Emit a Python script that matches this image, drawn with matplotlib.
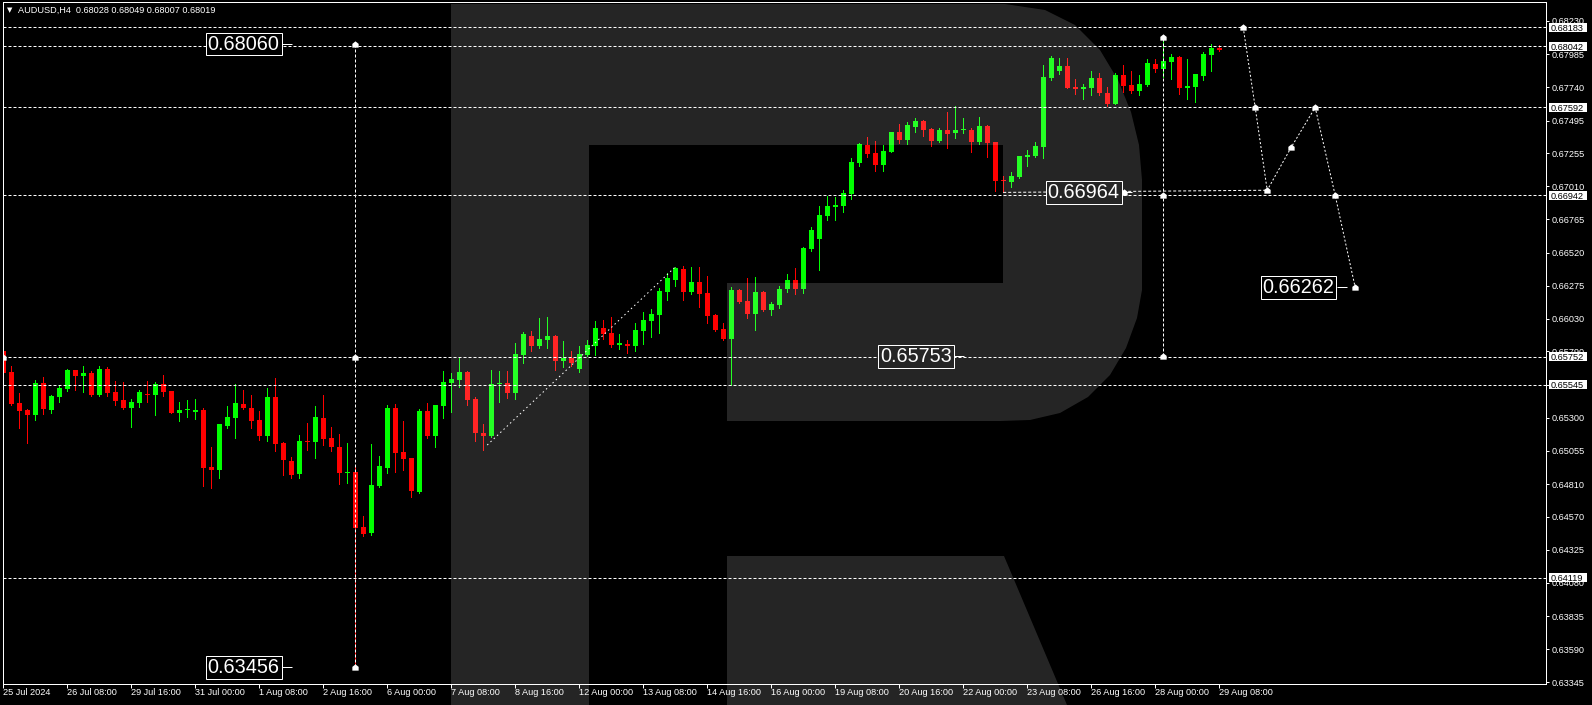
import matplotlib
matplotlib.use("Agg")
import matplotlib.pyplot as plt
from matplotlib import font_manager as fm
from matplotlib.path import Path
from matplotlib.patches import Polygon, Rectangle
import numpy as np

# ---------------- data ----------------
header_symbol = "AUDUSD,H4"
header_ohlc = "0.68028 0.68049 0.68007 0.68019"

opens = [0.65793, 0.65637, 0.65408, 0.65357, 0.65320, 0.65556, 0.65357, 0.65453, 0.65512, 0.65652,
         0.65608, 0.65630, 0.65468, 0.65660, 0.65490, 0.65431, 0.65372, 0.65408, 0.65475, 0.65468,
         0.65549, 0.65497, 0.65335, 0.65357, 0.65342, 0.65357, 0.64936, 0.64914, 0.65239, 0.65298,
         0.65401, 0.65372, 0.65283, 0.65165, 0.65453, 0.65113, 0.64980, 0.64884, 0.65128, 0.65120,
         0.65298, 0.65150, 0.65083, 0.64891, 0.64899, 0.64493, 0.64448, 0.64795, 0.64928, 0.65372,
         0.65046, 0.65002, 0.64751, 0.65349, 0.65165, 0.65386, 0.65556, 0.65578, 0.65637, 0.65438,
         0.65187, 0.65165, 0.65549, 0.65556, 0.65482, 0.65763, 0.65903, 0.65829, 0.65874, 0.65903,
         0.65719, 0.65741, 0.65660, 0.65763, 0.65829, 0.65962, 0.65925, 0.65837, 0.65844, 0.65829,
         0.65940, 0.66014, 0.66058, 0.66228, 0.66317, 0.66398, 0.66228, 0.66302, 0.66221, 0.66058,
         0.65955, 0.65881, 0.66243, 0.66162, 0.66066, 0.66228, 0.66095, 0.66132, 0.66250, 0.66317,
         0.66250, 0.66546, 0.66620, 0.66790, 0.66856, 0.66864, 0.66952, 0.67181, 0.67314, 0.67255,
         0.67166, 0.67262, 0.67410, 0.67351, 0.67447, 0.67491, 0.67432, 0.67344, 0.67425, 0.67403,
         0.67425, 0.67425, 0.67336, 0.67454, 0.67336, 0.67056, 0.67041, 0.67078, 0.67225, 0.67233,
         0.67299, 0.67809, 0.67861, 0.67898, 0.67742, 0.67728, 0.67735, 0.67809, 0.67698, 0.67617,
         0.67831, 0.67757, 0.67713, 0.67757, 0.67912, 0.67875, 0.67927, 0.67964, 0.67735, 0.67742,
         0.67824, 0.67979, 0.68028]
highs = [0.65822, 0.65682, 0.65482, 0.65364, 0.65578, 0.65601, 0.65468, 0.65541, 0.65660, 0.65652,
         0.65682, 0.65645, 0.65682, 0.65674, 0.65571, 0.65564, 0.65438, 0.65505, 0.65571, 0.65564,
         0.65615, 0.65497, 0.65416, 0.65431, 0.65438, 0.65372, 0.65083, 0.65253, 0.65386, 0.65549,
         0.65505, 0.65468, 0.65349, 0.65519, 0.65593, 0.65120, 0.65010, 0.65172, 0.65261, 0.65386,
         0.65468, 0.65231, 0.65180, 0.65113, 0.64936, 0.64574, 0.65106, 0.65017, 0.65394, 0.65401,
         0.65276, 0.65002, 0.65364, 0.65408, 0.65394, 0.65645, 0.65630, 0.65741, 0.65645, 0.65453,
         0.65253, 0.65652, 0.65645, 0.65645, 0.65852, 0.65933, 0.65940, 0.66036, 0.66044, 0.65911,
         0.65866, 0.65793, 0.65829, 0.65874, 0.66014, 0.66022, 0.66044, 0.65918, 0.65874, 0.65999,
         0.66081, 0.66103, 0.66258, 0.66369, 0.66413, 0.66420, 0.66413, 0.66413, 0.66346, 0.66066,
         0.65999, 0.66265, 0.66250, 0.66332, 0.66339, 0.66236, 0.66154, 0.66273, 0.66361, 0.66406,
         0.66561, 0.66708, 0.66864, 0.66937, 0.66930, 0.66982, 0.67218, 0.67329, 0.67373, 0.67344,
         0.67314, 0.67410, 0.67469, 0.67484, 0.67514, 0.67499, 0.67440, 0.67440, 0.67558, 0.67602,
         0.67514, 0.67440, 0.67521, 0.67462, 0.67336, 0.67085, 0.67115, 0.67233, 0.67277, 0.67336,
         0.67905, 0.67971, 0.67957, 0.67957, 0.67802, 0.67765, 0.67861, 0.67846, 0.67742, 0.67846,
         0.67905, 0.67861, 0.67831, 0.67949, 0.67949, 0.68112, 0.67986, 0.67971, 0.67949, 0.67838,
         0.68001, 0.68060, 0.68049]
lows = [0.65578, 0.65394, 0.65224, 0.65113, 0.65283, 0.65327, 0.65335, 0.65416, 0.65497, 0.65505,
        0.65490, 0.65460, 0.65460, 0.65460, 0.65394, 0.65364, 0.65231, 0.65379, 0.65416, 0.65320,
        0.65460, 0.65335, 0.65276, 0.65305, 0.65290, 0.64795, 0.64783, 0.64855, 0.65224, 0.65150,
        0.65364, 0.65224, 0.65135, 0.65128, 0.65054, 0.64877, 0.64855, 0.64855, 0.65061, 0.65002,
        0.65098, 0.65054, 0.64810, 0.64818, 0.63456, 0.64426, 0.64434, 0.64788, 0.64891, 0.64899,
        0.64914, 0.64714, 0.64744, 0.65150, 0.65083, 0.65298, 0.65342, 0.65527, 0.65394, 0.65128,
        0.65061, 0.65157, 0.65416, 0.65445, 0.65438, 0.65704, 0.65793, 0.65815, 0.65815, 0.65652,
        0.65674, 0.65682, 0.65637, 0.65756, 0.65763, 0.65881, 0.65822, 0.65807, 0.65778, 0.65793,
        0.65844, 0.65896, 0.65925, 0.66169, 0.66273, 0.66169, 0.66214, 0.66118, 0.65999, 0.65940,
        0.65874, 0.65545, 0.66147, 0.66036, 0.65948, 0.66088, 0.66058, 0.66110, 0.66228, 0.66214,
        0.66221, 0.66531, 0.66391, 0.66760, 0.66760, 0.66819, 0.66915, 0.67159, 0.67225, 0.67122,
        0.67122, 0.67262, 0.67329, 0.67321, 0.67410, 0.67381, 0.67307, 0.67336, 0.67292, 0.67366,
        0.67403, 0.67262, 0.67321, 0.67225, 0.66974, 0.66964, 0.67004, 0.67070, 0.67159, 0.67225,
        0.67218, 0.67794, 0.67838, 0.67735, 0.67691, 0.67654, 0.67683, 0.67683, 0.67602, 0.67617,
        0.67706, 0.67698, 0.67683, 0.67750, 0.67853, 0.67816, 0.67802, 0.67691, 0.67654, 0.67632,
        0.67794, 0.67861, 0.68007]
closes = [0.65630, 0.65401, 0.65349, 0.65320, 0.65556, 0.65364, 0.65460, 0.65519, 0.65652, 0.65608,
          0.65630, 0.65468, 0.65660, 0.65482, 0.65423, 0.65372, 0.65416, 0.65490, 0.65468, 0.65549,
          0.65490, 0.65335, 0.65357, 0.65364, 0.65357, 0.64928, 0.64914, 0.65253, 0.65305, 0.65408,
          0.65372, 0.65276, 0.65165, 0.65453, 0.65106, 0.64987, 0.64877, 0.65128, 0.65120, 0.65305,
          0.65143, 0.65083, 0.64891, 0.64899, 0.64485, 0.64441, 0.64803, 0.64943, 0.65372, 0.65039,
          0.64995, 0.64759, 0.65349, 0.65165, 0.65394, 0.65564, 0.65586, 0.65637, 0.65431, 0.65187,
          0.65165, 0.65549, 0.65556, 0.65482, 0.65770, 0.65918, 0.65829, 0.65881, 0.65903, 0.65719,
          0.65741, 0.65704, 0.65770, 0.65837, 0.65962, 0.65918, 0.65837, 0.65852, 0.65829, 0.65948,
          0.66022, 0.66066, 0.66236, 0.66332, 0.66406, 0.66228, 0.66302, 0.66214, 0.66051, 0.65948,
          0.65881, 0.66243, 0.66154, 0.66066, 0.66228, 0.66095, 0.66140, 0.66250, 0.66317, 0.66250,
          0.66553, 0.66686, 0.66797, 0.66864, 0.66871, 0.66960, 0.67189, 0.67321, 0.67248, 0.67166,
          0.67270, 0.67410, 0.67351, 0.67462, 0.67491, 0.67425, 0.67344, 0.67425, 0.67395, 0.67425,
          0.67432, 0.67336, 0.67454, 0.67329, 0.67048, 0.67048, 0.67085, 0.67233, 0.67240, 0.67307,
          0.67816, 0.67957, 0.67898, 0.67735, 0.67728, 0.67742, 0.67809, 0.67698, 0.67617, 0.67831,
          0.67750, 0.67713, 0.67765, 0.67920, 0.67875, 0.67935, 0.67964, 0.67735, 0.67750, 0.67838,
          0.67986, 0.68030, 0.68019]

time_labels = ["25 Jul 2024", "26 Jul 08:00", "29 Jul 16:00", "31 Jul 00:00", "1 Aug 08:00",
               "2 Aug 16:00", "6 Aug 00:00", "7 Aug 08:00", "8 Aug 16:00", "12 Aug 00:00",
               "13 Aug 08:00", "14 Aug 16:00", "16 Aug 00:00", "19 Aug 08:00", "20 Aug 16:00",
               "22 Aug 00:00", "23 Aug 08:00", "26 Aug 16:00", "28 Aug 00:00", "29 Aug 08:00"]
time_label_bars = [0, 8, 16, 24, 32, 40, 48, 56, 64, 72, 80, 88, 96, 104, 112, 120, 128, 136, 144, 152]

price_ticks = [0.63345, 0.63590, 0.63835, 0.64080, 0.64325, 0.64570, 0.64810, 0.65055, 0.65300,
               0.65545, 0.65790, 0.66030, 0.66275, 0.66520, 0.66765, 0.67010, 0.67255, 0.67495,
               0.67740, 0.67985, 0.68230]
level_lines = [0.68183, 0.68042, 0.67592, 0.66942, 0.65752, 0.65545, 0.64119]

vertical_bars = [44, 145]
vertical_tops = [0.68060, 0.68112]
vertical_bottoms = [0.63456, 0.65753]

marker_bars = [0, 44, 44, 44, 145, 145, 145, 140.1]
marker_prices = [0.65752, 0.68060, 0.65752, 0.63456, 0.68112, 0.66942, 0.65753, 0.66964]

forecast_bars = [155, 156.5, 158, 161, 164, 166.5, 169]
forecast_prices = [0.68183, 0.67592, 0.66980, 0.67297, 0.67592, 0.66942, 0.66262]

trend_bars = [60.5, 84]
trend_prices = [0.65098, 0.66413]
support_bars = [125, 158]
support_prices = [0.66964, 0.66980]

big_labels = ["0.68060", "0.63456", "0.65753", "0.66964", "0.66262"]
big_label_prices = [0.68060, 0.63456, 0.65753, 0.66964, 0.66262]
big_label_right_bars = [34.55, 34.55, 118.55, 139.55, 166.4]

# ---------------- style ----------------
plt.rcParams['lines.scale_dashes'] = False
available = {f.name for f in fm.fontManager.ttflist}
if 'Liberation Sans Narrow' in available:
    FONT, SCALE = 'Liberation Sans Narrow', 1.0
else:
    FONT, SCALE = 'Liberation Sans', 0.82
plt.rcParams['font.family'] = [FONT, 'DejaVu Sans']

W, H = 1592, 705
PX = 0.72  # points per pixel at dpi 100
GREEN, RED, WHITE = '#00ff00', '#ff0000', 'white'

fig = plt.figure(figsize=(W / 100, H / 100), dpi=100, facecolor='black')
ax_l, ax_r, ax_t, ax_b = 2.5, 1546.0, 2.3, 683.5
ax = fig.add_axes([ax_l / W, (H - ax_b) / H, (ax_r - ax_l) / W, (ax_b - ax_t) / H])
ax.set_facecolor('black')
ax.set_xlim(-0.0875, 192.85)
ax.set_ylim(0.63337, 0.68368)
for s in ax.spines.values():
    s.set_color(WHITE)
    s.set_linewidth(PX)

# candles
o = np.array(opens); h = np.array(highs); l = np.array(lows); c = np.array(closes)
idx = np.arange(len(o))
cols = np.where(c >= o, GREEN, RED)
ax.vlines(idx, l, h, colors=cols, linewidth=PX, zorder=2, antialiased=False)
body_low = np.minimum(o, c)
body_h = np.maximum(np.abs(c - o), 0.00008)
ax.bar(idx, body_h, bottom=body_low, width=0.625, color=cols, linewidth=0, zorder=2.5, antialiased=False)

# level lines
for lv in level_lines:
    ax.axhline(lv, color=WHITE, lw=PX, dashes=(3 * PX, 2 * PX), zorder=3)

for xb, top, bot in zip(vertical_bars, vertical_tops, vertical_bottoms):
    ax.plot([xb, xb], [bot, top], color=WHITE, lw=PX, dashes=(3 * PX, 2 * PX), zorder=3)

house = Path([(0, 1), (1, 0.2), (1, -1), (-1, -1), (-1, 0.2), (0, 1)], closed=True)

ax.plot(trend_bars, trend_prices, color=WHITE, lw=PX, dashes=(1.5 * PX, 3 * PX), zorder=3)
ax.plot(support_bars, support_prices, color=WHITE, lw=PX, dashes=(3 * PX, 2 * PX), zorder=3)
ax.plot(forecast_bars, forecast_prices, color=WHITE, lw=PX, dashes=(2 * PX, 2 * PX), zorder=4)
ax.plot(forecast_bars, forecast_prices, ls='none', marker=house, ms=4.5 * PX * 1.4,
        mfc=WHITE, mec=WHITE, mew=0, zorder=5)
ax.plot(marker_bars, marker_prices, ls='none', marker=house, ms=4.5 * PX * 1.4,
        mfc=WHITE, mec=WHITE, mew=0, zorder=5)

for t, p, rb in zip(big_labels, big_label_prices, big_label_right_bars):
    ax.text(rb, p, t, ha='right', va='center', color=WHITE, fontsize=17.5 * SCALE,
            bbox=dict(boxstyle='square,pad=0.1', fc='black', ec=WHITE, lw=PX), zorder=6)
    ax.plot([rb + 0.3, rb + 1.55], [p, p], color=WHITE, lw=PX, zorder=6, solid_capstyle='butt')

# axes ticks
ax.yaxis.tick_right()
ax.set_yticks(price_ticks)
ax.set_yticklabels([f"{v:.5f}" for v in price_ticks])
ax.tick_params(axis='y', colors=WHITE, length=3 * PX, width=PX, pad=2, labelsize=8 * SCALE,
               direction='out')
ax.set_xticks(time_label_bars)
ax.set_xticklabels(time_labels)
for lb in ax.get_xticklabels():
    lb.set_ha('left')
ax.tick_params(axis='x', colors=WHITE, length=3.5 * PX, width=PX, pad=1, labelsize=8 * SCALE,
               direction='out')

# price boxes on the right scale
ax_s = fig.add_axes([ax_r / W, (H - ax_b) / H, (W - ax_r) / W, (ax_b - ax_t) / H], sharey=ax)
ax_s.set_xlim(0, W - ax_r)
ax_s.axis('off')
ax_s.patch.set_alpha(0)
ppx = (0.68368 - 0.63337) / (ax_b - ax_t)
for lv in level_lines:
    ax_s.add_patch(Rectangle((2.7, lv - 4.7 * ppx), 38.6, 9.4 * ppx, fc=WHITE, ec='none', zorder=5))
    ax_s.text(4.5, lv, f"{lv:.5f}", color='black', fontsize=8 * SCALE, ha='left',
              va='center_baseline', zorder=6)

# header
fig.text(7 / W, 1 - 10.5 / H, '\u25BC', color=WHITE, fontsize=5, family='DejaVu Sans',
         ha='left', va='center')
fig.text(18 / W, 1 - 10.5 / H, header_symbol + "  " + header_ohlc, color=WHITE,
         fontsize=8 * SCALE, ha='left', va='center')

# watermark logo overlay
ov = fig.add_axes([0, 0, 1, 1], zorder=10)
ov.set_xlim(0, W)
ov.set_ylim(H, 0)
ov.axis('off')
ov.patch.set_alpha(0)
bowl = [(451, 4), (1005, 4), (1045, 10), (1075, 25), (1100, 50), (1118, 80), (1131, 112),
        (1139, 145), (1142, 180), (1142, 290), (1137, 318), (1126, 348), (1110, 375),
        (1088, 397), (1060, 413), (1030, 420), (1000, 421), (727, 421), (727, 283),
        (1003, 283), (1003, 145), (589, 145), (589, 705), (451, 705)]
leg = [(727, 556), (1004, 556), (1067, 705), (727, 705)]
for poly in (bowl, leg):
    ov.add_patch(Polygon(poly, closed=True, fc=WHITE, ec='none', alpha=0.15))

fig.savefig('out.png', dpi=100, facecolor='black')
